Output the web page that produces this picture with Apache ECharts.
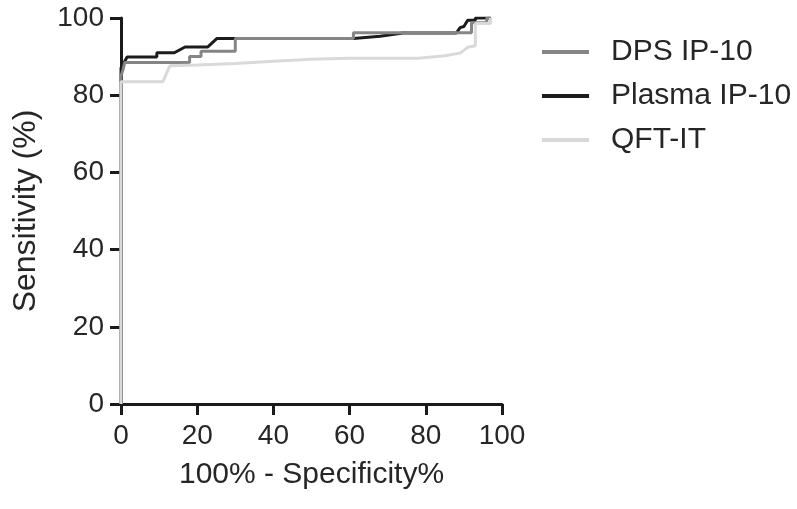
<!DOCTYPE html>
<html>
<head>
<meta charset="utf-8">
<script src="https://cdn.jsdelivr.net/npm/echarts@6/dist/echarts.min.js"></script>
<style>
  html, body { margin: 0; padding: 0; background: #fff; }
  #rocChart { width: 797px; height: 509px; }
</style>
</head>
<body>
<div id="rocChart"></div>
<script>
// ROC 曲线数据: [100% - Specificity%, Sensitivity %]
const seriesNames = ['DPS IP-10', 'Plasma IP-10', 'QFT-IT']
const axisTicks = [0, 20, 40, 60, 80, 100]

const dpsPoints = [
  [0, 0], [0, 85], [0.5, 86.5], [1, 88.5], [18, 88.5], [18, 90], [21, 90], [21, 91.4],
  [30, 91.4], [30, 94.7], [61, 94.7], [61, 96.2], [92, 96.2], [92, 98.8], [96, 98.8], [96, 100], [97, 100]
]
const plasmaPoints = [
  [0, 0], [0, 87], [1.6, 89.9], [9.4, 89.9], [9.4, 91], [14, 91], [16.8, 92.5], [22.8, 92.5],
  [25.2, 94.7], [61, 94.7], [68, 95.3], [74, 96.1], [88, 96.1], [89, 97.5], [90, 97.8], [91, 99.4],
  [93, 99.4], [93, 100], [97, 100]
]
const qftPoints = [
  [0, 0], [0, 83.5], [11, 83.5], [12.8, 87.6], [20, 87.8], [30, 88.2], [40, 88.8], [50, 89.3],
  [60, 89.6], [78, 89.6], [85, 90.2], [89, 90.9], [91, 92.4], [93, 92.8], [93, 98.6], [97, 98.6], [97, 100]
]

let myChart = echarts.init(document.getElementById('rocChart'))

const textColor = '#262626'
const axisColor = '#1a1a1a'

const axisCommon = {
  type: 'value',
  min: axisTicks[0],
  max: axisTicks[axisTicks.length - 1],
  interval: axisTicks[1] - axisTicks[0],
  nameLocation: 'middle',
  nameTextStyle: { color: textColor, fontSize: 30, fontFamily: 'Liberation Sans' },
  splitLine: { show: false },
  axisLine: { show: true, lineStyle: { color: axisColor, width: 3 } },
  axisTick: { show: true, length: 11, lineStyle: { color: axisColor, width: 3 } },
  axisLabel: { color: textColor, fontSize: 28, fontFamily: 'Liberation Sans' }
}

let option = {
  animation: false,
  backgroundColor: '#fff',
  grid: { left: 121, right: 295, top: 18, bottom: 105 },
  legend: {
    orient: 'vertical',
    left: 537,
    top: 30,
    data: seriesNames,
    icon: 'rect',
    itemWidth: 47,
    itemHeight: 4,
    itemGap: 10,
    textStyle: {
      color: textColor, fontSize: 30, fontFamily: 'Liberation Sans',
      lineHeight: 34, padding: [0, 0, 0, 17]
    }
  },
  xAxis: Object.assign({}, axisCommon, {
    name: '100% - Specificity%',
    nameGap: 56,
    axisLabel: Object.assign({}, axisCommon.axisLabel, { margin: 18 })
  }),
  yAxis: Object.assign({}, axisCommon, {
    name: 'Sensitivity (%)',
    nameGap: 79,
    nameRotate: 90,
    nameTextStyle: { color: textColor, fontSize: 32, fontFamily: 'Liberation Sans' },
    axisLabel: Object.assign({}, axisCommon.axisLabel, { margin: 17 })
  }),
  series: [
    {
      name: 'Plasma IP-10', type: 'line', symbol: 'none', data: plasmaPoints,
      lineStyle: { color: '#1c1c1c', width: 3 }, itemStyle: { color: '#1c1c1c' }
    },
    {
      name: 'DPS IP-10', type: 'line', symbol: 'none', data: dpsPoints,
      lineStyle: { color: '#858585', width: 3 }, itemStyle: { color: '#858585' }
    },
    {
      name: 'QFT-IT', type: 'line', symbol: 'none', data: qftPoints,
      lineStyle: { color: '#d9d9d9', width: 3 }, itemStyle: { color: '#d9d9d9' }
    }
  ]
}
myChart.setOption(option)
</script>
</body>
</html>
